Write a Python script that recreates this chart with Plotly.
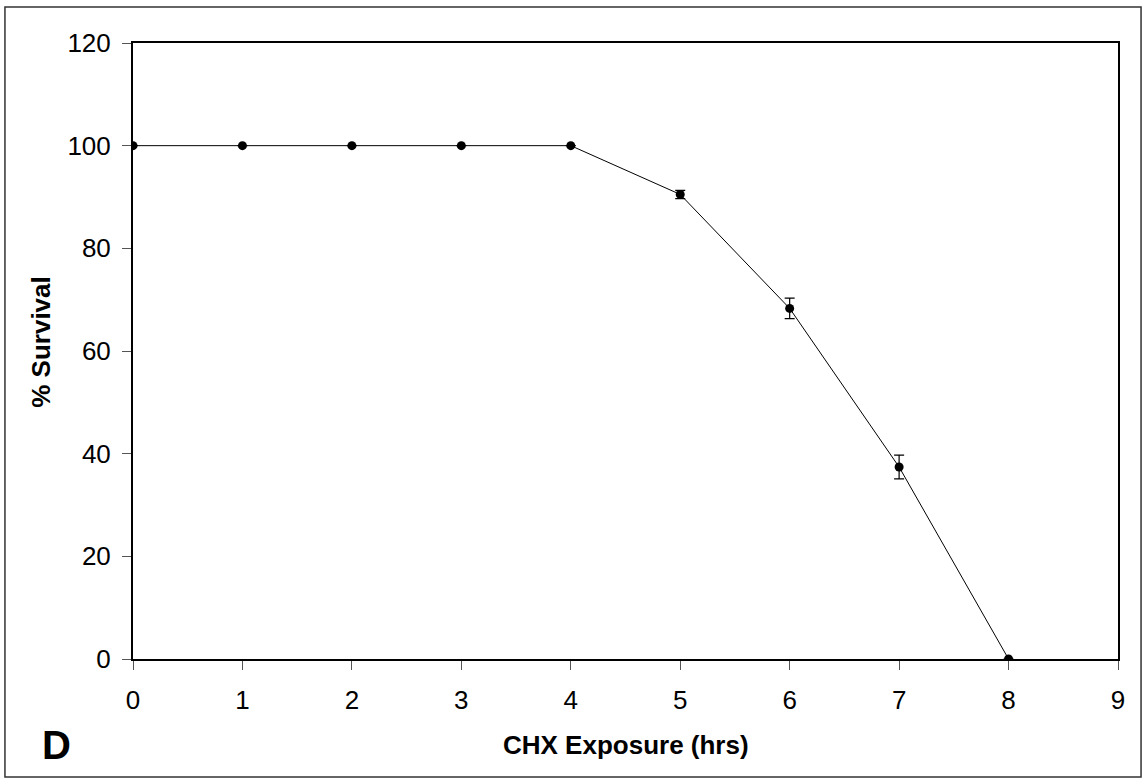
import plotly.graph_objects as go

hours = [0, 1, 2, 3, 4, 5, 6, 7, 8]
survival = [100, 100, 100, 100, 100, 90.5, 68.3, 37.4, 0]
errors = [0, 0, 0, 0, 0, 0.8, 2.0, 2.3, 0]
x_ticks = [0, 1, 2, 3, 4, 5, 6, 7, 8, 9]
y_ticks = [0, 20, 40, 60, 80, 100, 120]

fig = go.Figure()
fig.add_trace(go.Scatter(
    x=hours, y=survival, mode="lines+markers",
    line=dict(color="black", width=1),
    marker=dict(color="black", size=9),
    error_y=dict(type="data", array=errors, visible=True, color="black", thickness=1.2, width=5),
    showlegend=False,
))

font = "Liberation Sans, Arial, sans-serif"
fig.update_layout(
    width=1143, height=780,
    margin=dict(l=133, r=25, t=43, b=121),
    paper_bgcolor="white", plot_bgcolor="white",
    font=dict(family=font, color="black", size=26),
    xaxis=dict(range=[0, 9], tickvals=x_ticks, ticks="outside", ticklen=9, tickcolor="#555",
               showline=True, linecolor="black", linewidth=2, mirror=True, showgrid=False, zeroline=False,
               tickfont=dict(size=26), ticklabelstandoff=8),
    yaxis=dict(range=[0, 120], tickvals=y_ticks, ticks="outside", ticklen=9, tickcolor="#555",
               showline=True, linecolor="black", linewidth=2, mirror=True, showgrid=False, zeroline=False,
               tickfont=dict(size=26), ticklabelstandoff=6),
)
fig.add_shape(type="rect", xref="paper", yref="paper", x0=-0.13, x1=1.0234, y0=-0.1916, y1=1.0584,
              line=dict(color="#333", width=1.5))
fig.add_annotation(text="<b>CHX Exposure (hrs)</b>", xref="paper", yref="paper", x=0.5, y=-0.1396,
                   showarrow=False, font=dict(size=26, family=font), xanchor="center", yanchor="middle")
fig.add_annotation(text="<b>% Survival</b>", xref="paper", yref="paper", x=-0.0934, y=0.515,
                   textangle=-90, showarrow=False, font=dict(size=26, family=font),
                   xanchor="center", yanchor="middle")
fig.add_annotation(text="<b>D</b>", xref="paper", yref="paper", x=-0.0772, y=-0.1396,
                   showarrow=False, font=dict(size=40, family=font), xanchor="center", yanchor="middle")
fig.write_html("out.html", config={"displayModeBar": False},
               post_script="document.body.style.margin='0';")
